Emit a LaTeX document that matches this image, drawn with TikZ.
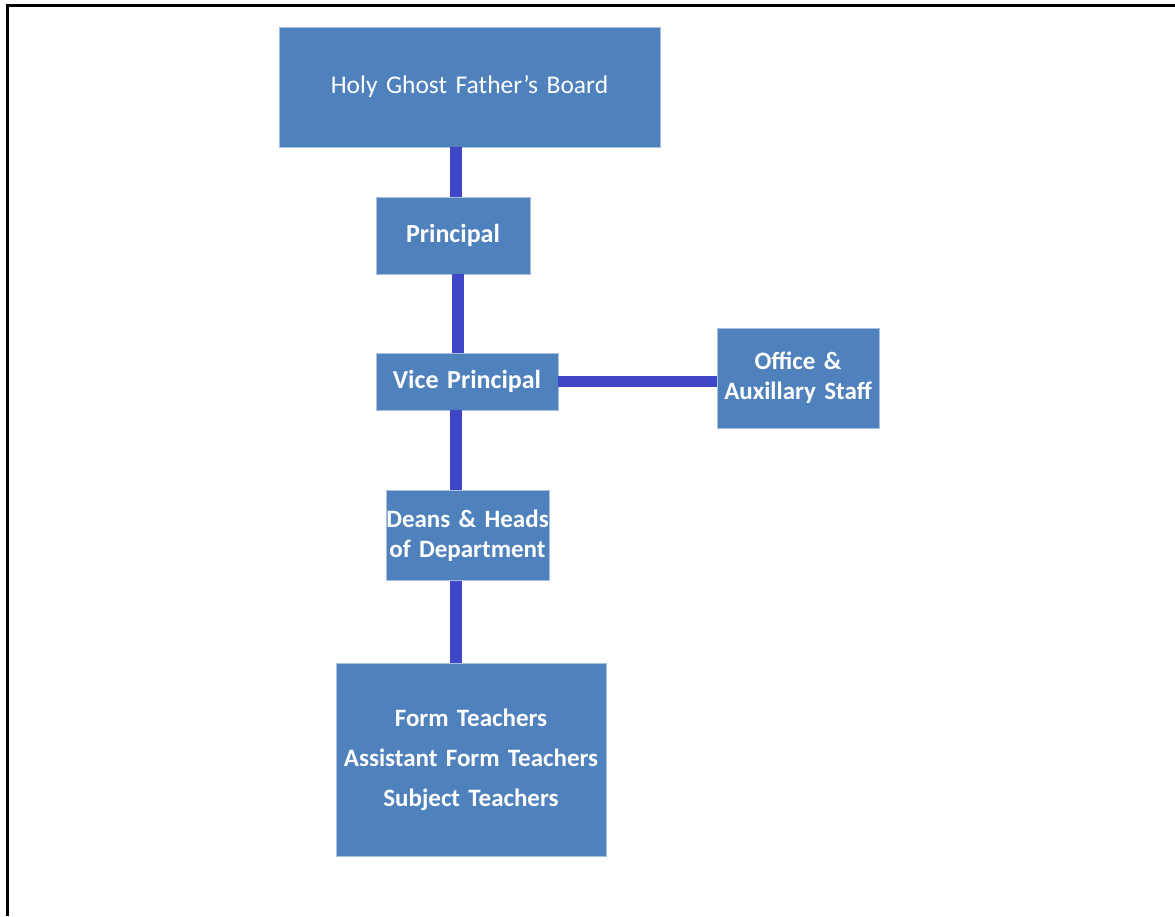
\documentclass[tikz,border=0pt]{standalone}
\usepackage{fontspec}
\setmainfont{Carlito}[WordSpace=0.7]
\definecolor{boxblue}{HTML}{4F81BD}
\definecolor{boxedge}{HTML}{A9C0E0}
\definecolor{linkblue}{HTML}{4046C8}
\tikzset{
  orgbox/.style={rectangle, fill=boxblue, draw=boxedge, line width=0.8pt, inner sep=0pt,
    text=white, align=center},
  link/.style={draw=linkblue, line width=11.5pt},
  frameline/.style={draw=black, line width=3pt}
}
\begin{document}
\begin{tikzpicture}[x=1pt,y=-1pt]
\useasboundingbox (0,0) rectangle (1175,916);
\draw[frameline] (7,916) -- (7,5) -- (1175,5);
\node[orgbox, minimum width=381pt, minimum height=120pt, text width=381pt,
  font=\fontsize{25.5}{30}\selectfont] (board) at (469.5,87) {Holy Ghost Father's Board};
\node[orgbox, minimum width=154pt, minimum height=77pt, text width=154pt,
  font=\bfseries\fontsize{26}{30}\selectfont] (prin) at (453,235.5) {Principal};
\node[orgbox, minimum width=182pt, minimum height=57pt, text width=182pt,
  font=\bfseries\fontsize{26}{30}\selectfont] (vp) at (467,381.5) {Vice Principal};
\node[orgbox, minimum width=162pt, minimum height=100pt, text width=162pt,
  font=\bfseries\fontsize{25}{30}\selectfont] (office) at (798,378) {Office \&\\Auxillary Staff};
\node[orgbox, minimum width=163pt, minimum height=90pt, text width=163pt,
  font=\bfseries\fontsize{25}{30}\selectfont] (deans) at (467.5,535.5) {Deans \& Heads\\of Department};
\node[orgbox, minimum width=270pt, minimum height=193pt, text width=270pt,
  font=\bfseries\fontsize{25}{40}\selectfont] (form) at (471,759.5) {Form Teachers\\Assistant Form Teachers\\Subject Teachers};
\coordinate (spine) at (456,0);
\coordinate (spine2) at (458,0);
\draw[link] (board.south -| spine) -- (prin.north -| spine);
\draw[link] (prin.south -| spine2) -- (vp.north -| spine2);
\draw[link] (vp.south -| spine) -- (deans.north -| spine);
\draw[link] (deans.south -| spine) -- (form.north -| spine);
\draw[link] (vp.east) -- (vp.east -| office.west);
\end{tikzpicture}
\end{document}
